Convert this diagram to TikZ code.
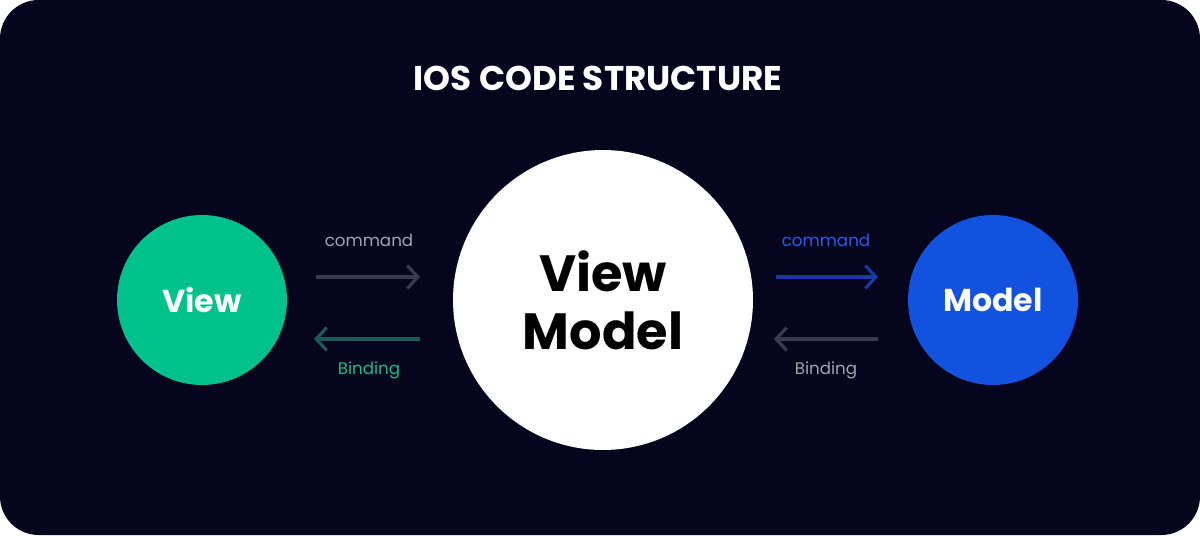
\documentclass[tikz,border=0pt]{standalone}
\usepackage{fontspec}
\setmainfont{Poppins}
\usetikzlibrary{positioning}
\usetikzlibrary{arrows.meta}
\definecolor{bgnavy}{HTML}{05051E}
\definecolor{viewgreen}{HTML}{00C08B}
\definecolor{modelblue}{HTML}{1352DE}
\definecolor{greytext}{HTML}{A3A3B3}
\definecolor{greyarrow}{HTML}{3A3A55}
\definecolor{greentext}{HTML}{20B98C}
\definecolor{greenarrow}{HTML}{1E5A55}
\definecolor{bluetext}{HTML}{2E5CE6}
\definecolor{bluearrow}{HTML}{1A3A9C}
\begin{document}
\begin{tikzpicture}[x=0.02cm,y=-0.02cm,
	flow/.style={-{Straight Barb[length=6pt,width=13pt]},line width=1.8pt},
	lbl/.style={font=\fontsize{9.5}{11}\selectfont},
	comp/.style={circle,text=white,font=\fontsize{18}{20}\selectfont\bfseries}]
	\useasboundingbox (0,0) rectangle (1200,535);
	\fill[white] (0,0) rectangle (1200,535);
	\fill[bgnavy,rounded corners=22] (0,0) rectangle (1200,535);
	
	\node[text=white,font=\fontsize{19.5}{22}\selectfont\bfseries] (title) at (598,78) {IOS CODE STRUCTURE};
	
	\node[comp,fill=viewgreen,minimum size=3.4cm] (view) at (202,300) {View};
	\node[comp,fill=white,text=black,minimum size=6cm,align=center,
		font=\fontsize{29}{33}\selectfont\bfseries] (vm) at (603,300) {View\\Model};
	\node[comp,fill=modelblue,minimum size=3.4cm] (model) at (993,300) {Model};
	
	% left pair
	\coordinate (lc1) at (316,277); \coordinate (lc2) at (420,277);
	\coordinate (lb1) at (420,339); \coordinate (lb2) at (314,339);
	\draw[flow,greyarrow] (lc1) -- (lc2);
	\draw[flow,greenarrow] (lb1) -- (lb2);
	\node[lbl,text=greytext] (lcmd) at (369,240) {command};
	\node[lbl,text=greentext] (lbind) at (369,370) {Binding};
	
	% right pair
	\coordinate (rc1) at (776,277); \coordinate (rc2) at (878,277);
	\coordinate (rb1) at (878,339); \coordinate (rb2) at (774,339);
	\draw[flow,bluearrow] (rc1) -- (rc2);
	\draw[flow,greyarrow] (rb1) -- (rb2);
	\node[lbl,text=bluetext] (rcmd) at (826,240) {command};
	\node[lbl,text=greytext] (rbind) at (826,370) {Binding};
\end{tikzpicture}
\end{document}
